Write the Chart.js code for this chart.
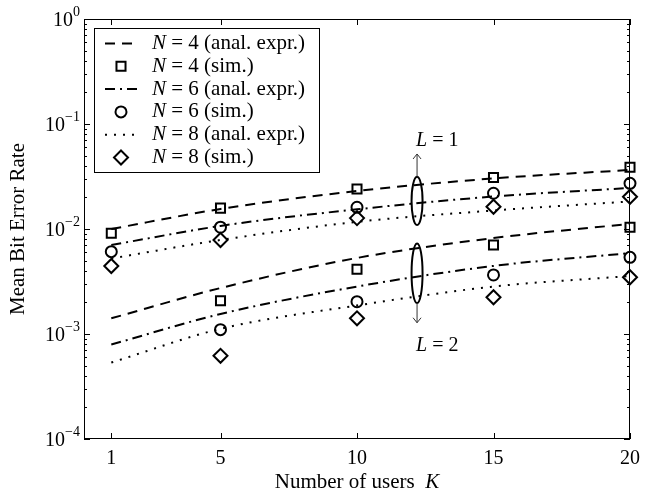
<!DOCTYPE html>
<html lang="en">
<head>
<meta charset="utf-8" />
<title>Mean BER vs number of users</title>
<script src="https://cdn.jsdelivr.net/npm/chart.js/dist/chart.umd.min.js"></script>
<style>
  * { margin: 0; padding: 0; }
  body { background: #fff; }
  .chartBox { width: 660px; height: 498px; }
</style>
</head>
<body>
<div class="chartBox"><canvas id="berChart" width="660" height="498"></canvas></div>
<script>
const usersK = [1, 5, 10, 15, 20];
const simK2 = [5, 10, 15, 20]; // L = 2 simulations start at K = 5
const xTicks = [1, 5, 10, 15, 20];
const yExponents = [0, -1, -2, -3, -4];

// L = 1
const anaN4L1 = [0.0100, 0.0155, 0.0230, 0.0303, 0.0365];
const anaN6L1 = [0.00704, 0.0107, 0.0154, 0.0204, 0.0246];
const anaN8L1 = [0.00524, 0.00786, 0.0117, 0.0150, 0.0183];
const simN4L1 = [0.0091, 0.0158, 0.0240, 0.0310, 0.0387];
const simN6L1 = [0.00608, 0.0104, 0.0161, 0.0219, 0.0272];
const simN8L1 = [0.00444, 0.00786, 0.0127, 0.0163, 0.0203];

// L = 2
const anaN4L2 = [0.00141, 0.00274, 0.0053, 0.0082, 0.0112];
const anaN6L2 = [0.000794, 0.00155, 0.00283, 0.00445, 0.0059];
const anaN8L2 = [0.000535, 0.00112, 0.00187, 0.00283, 0.00357];
const simN4L2 = [0.00207, 0.00413, 0.00704, 0.0104];
const simN6L2 = [0.0011, 0.00203, 0.00365, 0.00537];
const simN8L2 = [0.00062, 0.00141, 0.00224, 0.00347];

// ellipse groups marking the L = 1 and L = 2 curve bundles
const groupL = ["1", "2"];
const groupK = [12.2, 12.2];
const groupTop = [0.0314, 0.00729];
const groupBottom = [0.0109, 0.00197];
const arrowTip = [0.0518, 0.00128];
const groupTextY = [0.0688, 0.000766];

const SERIF = '"Liberation Serif", "Times New Roman", serif';
const DASH = [10, 7];
const DASHDOT = [10, 5, 2, 5];
const DOT = [2, 7];

const pts = (xs, ys) => xs.map((x, i) => ({ x: x, y: ys[i] }));

const lineSet = (label, xs, ys, dash) => ({
  type: "line", label: label, data: pts(xs, ys),
  borderColor: "#000", borderWidth: 2, borderDash: dash,
  pointRadius: 0, cubicInterpolationMode: "monotone", fill: false,
});
const markSet = (label, xs, ys, style, r) => ({
  type: "scatter", label: label, data: pts(xs, ys), showLine: false,
  pointStyle: style, pointRadius: r, pointBorderWidth: 2,
  pointBorderColor: "#000", pointBackgroundColor: "rgba(0,0,0,0)",
  borderColor: "#000", backgroundColor: "rgba(0,0,0,0)", clip: false,
});

const datasets = [
  lineSet("N = 4 (anal. expr.)", usersK, anaN4L1, DASH),
  markSet("N = 4 (sim.)", usersK, simN4L1, "rect", 6.4),
  lineSet("N = 6 (anal. expr.)", usersK, anaN6L1, DASHDOT),
  markSet("N = 6 (sim.)", usersK, simN6L1, "circle", 5.5),
  lineSet("N = 8 (anal. expr.)", usersK, anaN8L1, DOT),
  markSet("N = 8 (sim.)", usersK, simN8L1, "rectRot", 7),
  lineSet("", usersK, anaN4L2, DASH),
  markSet("", simK2, simN4L2, "rect", 6.4),
  lineSet("", usersK, anaN6L2, DASHDOT),
  markSet("", simK2, simN6L2, "circle", 5.5),
  lineSet("", usersK, anaN8L2, DOT),
  markSet("", simK2, simN8L2, "rectRot", 7),
];

function drawMarker(ctx, style, r, x, y) {
  ctx.beginPath();
  if (style === "rect") {
    const s = r * Math.SQRT1_2;
    ctx.rect(x - s, y - s, 2 * s, 2 * s);
  } else if (style === "circle") {
    ctx.arc(x, y, r, 0, Math.PI * 2);
  } else {
    ctx.moveTo(x, y - r); ctx.lineTo(x + r, y); ctx.lineTo(x, y + r); ctx.lineTo(x - r, y); ctx.closePath();
  }
  ctx.stroke();
}

function italicLead(ctx, lead, rest, x, y, size) {
  ctx.font = "italic " + size + "px " + SERIF;
  ctx.fillText(lead, x, y);
  const w = ctx.measureText(lead).width;
  ctx.font = size + "px " + SERIF;
  ctx.fillText(rest, x + w, y);
}

function arrow(ctx, x, y0, y1) {
  const d = y1 < y0 ? -1 : 1;
  ctx.beginPath();
  ctx.moveTo(x, y0); ctx.lineTo(x, y1);
  ctx.moveTo(x - 4, y1 - 5 * d); ctx.lineTo(x, y1); ctx.lineTo(x + 4, y1 - 5 * d);
  ctx.stroke();
}

const decorPlugin = {
  id: "decor",
  afterDraw(chart) {
    const ctx = chart.ctx;
    const xs = chart.scales.x, ys = chart.scales.y;
    const { left, right, top, bottom } = chart.chartArea;
    ctx.save();
    ctx.strokeStyle = "#000";
    ctx.fillStyle = "#000";
    ctx.lineWidth = 1;
    ctx.setLineDash([]);

    // frame
    ctx.strokeRect(left + 0.5, top + 0.5, right - left - 1, bottom - top - 1);

    // x ticks (inside, top and bottom)
    ctx.beginPath();
    xTicks.forEach(v => {
      const px = Math.round(xs.getPixelForValue(v)) + 0.5;
      ctx.moveTo(px, bottom); ctx.lineTo(px, bottom - 6);
      ctx.moveTo(px, top); ctx.lineTo(px, top + 6);
    });
    // y ticks, major and minor
    yExponents.forEach(e => {
      const py = Math.round(ys.getPixelForValue(Math.pow(10, e))) + 0.5;
      ctx.moveTo(left, py); ctx.lineTo(left + 6, py);
      ctx.moveTo(right, py); ctx.lineTo(right - 6, py);
      if (e < 0) {
        for (let m = 2; m <= 9; m++) {
          const pm = Math.round(ys.getPixelForValue(m * Math.pow(10, e))) + 0.5;
          ctx.moveTo(left, pm); ctx.lineTo(left + 3, pm);
          ctx.moveTo(right, pm); ctx.lineTo(right - 3, pm);
        }
      }
    });
    ctx.stroke();

    // x tick labels
    ctx.font = "20px " + SERIF;
    ctx.textAlign = "center";
    ctx.textBaseline = "alphabetic";
    xTicks.forEach(v => ctx.fillText(String(v), xs.getPixelForValue(v), bottom + 25));

    // y tick labels 10^e
    yExponents.forEach(e => {
      const py = ys.getPixelForValue(Math.pow(10, e));
      const ex = e === 0 ? "0" : "\u2212" + String(-e);
      ctx.font = "14px " + SERIF;
      const we = ctx.measureText(ex).width;
      ctx.textAlign = "right";
      ctx.fillText(ex, left - 4, py - 3);
      ctx.font = "20px " + SERIF;
      ctx.fillText("10", left - 4 - we, py + 7);
    });

    // axis titles
    ctx.textAlign = "left";
    ctx.font = "21px " + SERIF;
    const t1 = "Number of users  ";
    const w1 = ctx.measureText(t1).width;
    ctx.font = "italic 21px " + SERIF;
    const w2 = ctx.measureText("K").width;
    const tx = (left + right) / 2 - (w1 + w2) / 2;
    ctx.font = "21px " + SERIF;
    ctx.fillText(t1, tx, 488);
    ctx.font = "italic 21px " + SERIF;
    ctx.fillText("K", tx + w1, 488);

    ctx.save();
    ctx.translate(24, (top + bottom) / 2);
    ctx.rotate(-Math.PI / 2);
    ctx.textAlign = "center";
    ctx.font = "21px " + SERIF;
    ctx.fillText("Mean Bit Error Rate", 0, 0);
    ctx.restore();

    // ellipses, arrows, L labels
    groupL.forEach((l, i) => {
      const cx = xs.getPixelForValue(groupK[i]);
      const yT = ys.getPixelForValue(groupTop[i]);
      const yB = ys.getPixelForValue(groupBottom[i]);
      ctx.lineWidth = 2;
      ctx.beginPath();
      ctx.ellipse(cx, (yT + yB) / 2, 5.5, (yB - yT) / 2, 0, 0, Math.PI * 2);
      ctx.stroke();
      ctx.lineWidth = 1;
      ctx.strokeStyle = "#333";
      const yTip = ys.getPixelForValue(arrowTip[i]);
      arrow(ctx, cx, i === 0 ? yT : yB, yTip);
      ctx.strokeStyle = "#000";
      ctx.textAlign = "left";
      ctx.textBaseline = "middle";
      italicLead(ctx, "L", " = " + l, cx - 1, ys.getPixelForValue(groupTextY[i]), 20);
      ctx.textBaseline = "alphabetic";
    });

    // legend
    const lx = 94, ly = 28, lw = 225, lh = 144;
    ctx.fillStyle = "#fff";
    ctx.fillRect(lx, ly, lw, lh);
    ctx.fillStyle = "#000";
    ctx.lineWidth = 1;
    ctx.strokeRect(lx + 0.5, ly + 0.5, lw, lh);
    ctx.textBaseline = "middle";
    ctx.textAlign = "left";
    chart.data.datasets.slice(0, 6).forEach((ds, i) => {
      const ry = ly + 15.5 + i * 22.8;
      if (ds.type === "line") {
        ctx.lineWidth = 2;
        ctx.setLineDash(ds.borderDash);
        ctx.beginPath();
        ctx.moveTo(105, ry); ctx.lineTo(139, ry);
        ctx.stroke();
        ctx.setLineDash([]);
      } else {
        ctx.lineWidth = 2;
        drawMarker(ctx, ds.pointStyle, ds.pointRadius, 121, ry);
      }
      italicLead(ctx, ds.label.charAt(0), ds.label.slice(1), 152, ry, 21);
    });
    ctx.restore();
  },
};

new Chart(document.getElementById("berChart"), {
  data: { datasets: datasets },
  options: {
    responsive: false,
    animation: false,
    layout: { padding: { top: 19, right: 30, left: 0, bottom: 0 } },
    plugins: { legend: { display: false }, tooltip: { enabled: false } },
    scales: {
      x: {
        type: "linear", min: 0, max: 20,
        grid: { display: false }, border: { display: false },
        ticks: { display: false },
        afterFit: s => { s.height = 59; },
      },
      y: {
        type: "logarithmic", min: 1e-4, max: 1,
        grid: { display: false }, border: { display: false },
        ticks: { display: false },
        afterFit: s => { s.width = 84; },
      },
    },
  },
  plugins: [decorPlugin],
});
</script>
</body>
</html>
